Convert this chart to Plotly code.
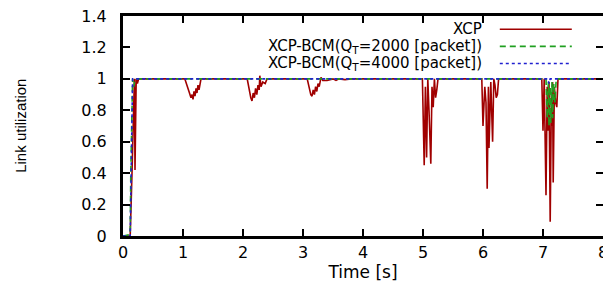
import plotly.graph_objects as go

# XCP
xcp_t = [0, 0.12, 0.15, 0.17, 0.19, 0.2, 0.22, 0.24, 0.26,
         1.03, 1.067, 1.1, 1.133, 1.15, 1.167, 1.183, 1.2, 1.217, 1.233, 1.25, 1.267, 1.283, 1.3,
         2.07, 2.1, 2.13, 2.15, 2.17, 2.19, 2.21, 2.23, 2.25, 2.27, 2.28, 2.3, 2.33, 2.37, 2.4,
         3.07, 3.1, 3.13, 3.15, 3.17, 3.19, 3.21, 3.23, 3.25, 3.27, 3.3, 3.33, 3.4, 3.5, 3.55, 3.6, 3.7, 3.8,
         4.99, 5.02, 5.04, 5.06, 5.08, 5.1, 5.13, 5.15, 5.17, 5.19, 5.21, 5.23, 5.25,
         5.98, 6.0, 6.03, 6.05, 6.07, 6.09, 6.1, 6.13, 6.16, 6.18, 6.2, 6.22, 6.24, 6.26,
         6.98, 7.0, 7.02, 7.05, 7.07, 7.08, 7.1, 7.12, 7.14, 7.15, 7.16, 7.17, 7.19, 7.21, 7.23, 7.25,
         8.0]
xcp_u = [0, 0, 0.4, 0.8, 1.0, 0.42, 1.0, 0.97, 1.0,
         1.0, 0.95, 0.92, 0.88, 0.9, 0.87, 0.92, 0.89, 0.94, 0.91, 0.96, 0.93, 0.98, 1.0,
         1.0, 0.93, 0.88, 0.86, 0.91, 0.88, 0.94, 0.9, 0.96, 0.93, 1.02, 0.95, 0.98, 0.97, 1.0,
         1.0, 0.94, 0.9, 0.89, 0.93, 0.9, 0.95, 0.92, 0.97, 0.95, 1.01, 0.99, 0.99, 1.0, 0.99, 1.0, 0.995, 1.0,
         1.0, 0.45, 0.95, 0.5, 1.0, 0.8, 0.46, 0.95, 0.82, 1.0, 0.88, 0.93, 1.0,
         1.0, 0.7, 0.95, 0.85, 0.3, 0.95, 0.56, 0.98, 0.6, 1.0, 0.96, 0.88, 0.9, 1.0,
         1.0, 0.67, 1.0, 0.26, 0.95, 0.67, 0.98, 0.09, 0.9, 0.7, 0.98, 0.34, 0.95, 0.85, 0.82, 1.0,
         1.0]

# XCP-BCM (QT=2000)
bcm2000_t = [0, 0.12, 0.13, 0.14, 0.15, 0.16, 0.18, 0.2,
             7.05, 7.07, 7.09, 7.1, 7.12, 7.13, 7.15, 7.16, 7.18, 7.2, 7.22, 8.0]
bcm2000_u = [0, 0.01, 0.4, 0.8, 0.8, 1.0, 0.95, 1.0,
             1.0, 0.75, 0.98, 0.7, 0.95, 0.72, 0.98, 0.75, 0.97, 0.85, 1.0, 1.0]

# XCP-BCM (QT=4000)
bcm4000_t = [0, 0.12, 0.14, 0.16, 7.08, 7.1, 7.12, 8.0]
bcm4000_u = [0, 0, 0.5, 1.0, 1.0, 0.97, 1.0, 1.0]

legend_names = ["XCP", "XCP-BCM(Q<sub>T</sub>=2000 [packet])", "XCP-BCM(Q<sub>T</sub>=4000 [packet])"]
colors = ["#a00000", "#20a020", "#2020d0"]
dashes = ["solid", "6px,4px", "3px,3px"]

x_ticks = [0, 1, 2, 3, 4, 5, 6, 7, 8]
y_ticks = [0, 0.2, 0.4, 0.6, 0.8, 1, 1.2, 1.4]
y_tick_text = ["0", "0.2", "0.4", "0.6", "0.8", "1", "1.2", "1.4"]

series = [(xcp_t, xcp_u), (bcm2000_t, bcm2000_u), (bcm4000_t, bcm4000_u)]

fig = go.Figure()
for (t, u), name, c, d in zip(series, legend_names, colors, dashes):
    fig.add_trace(go.Scatter(x=t, y=u, mode="lines", name=name,
                             line=dict(color=c, width=1.6, dash=d), showlegend=False))

FONT = "DejaVu Sans"
# legend drawn manually (text on left, sample on right)
leg_y = [0.94, 0.862, 0.784]
for name, c, d, yy in zip(legend_names, colors, dashes, leg_y):
    fig.add_annotation(xref="paper", yref="paper", x=0.752, y=yy, text=name,
                       showarrow=False, xanchor="right", yanchor="middle",
                       font=dict(family=FONT, size=15, color="black"))
    fig.add_shape(type="line", xref="paper", yref="paper", x0=0.785, x1=0.935, y0=yy, y1=yy,
                  line=dict(color=c, width=1.6, dash=d))

fig.add_annotation(xref="paper", yref="paper", x=-0.215, y=0.5, text="Link utilization",
                   showarrow=False, textangle=-90, xanchor="center", yanchor="middle",
                   font=dict(family="Liberation Sans", size=15, color="black"))

axis_common = dict(showline=True, linecolor="black", linewidth=3, mirror="ticks",
                   ticks="inside", ticklen=7, tickwidth=2, tickcolor="black",
                   showgrid=False, zeroline=False, automargin=False,
                   ticklabeloverflow="allow",
                   tickfont=dict(family=FONT, size=16, color="black"))

fig.update_xaxes(range=[0, 8], tickvals=x_ticks, ticktext=[str(v) for v in x_ticks],
                 title=dict(text="Time [s]", font=dict(family=FONT, size=17, color="black"), standoff=2),
                 **axis_common)
fig.update_yaxes(range=[0, 1.4], tickvals=y_ticks, ticktext=y_tick_text,
                 ticklabelstandoff=10, **axis_common)

# page body adds an 8px offset, so margins are reduced accordingly
fig.update_layout(width=611, height=288, margin=dict(l=115, r=16, t=8, b=60),
                  plot_bgcolor="white", paper_bgcolor="white", showlegend=False)

fig.write_html("out.html")
